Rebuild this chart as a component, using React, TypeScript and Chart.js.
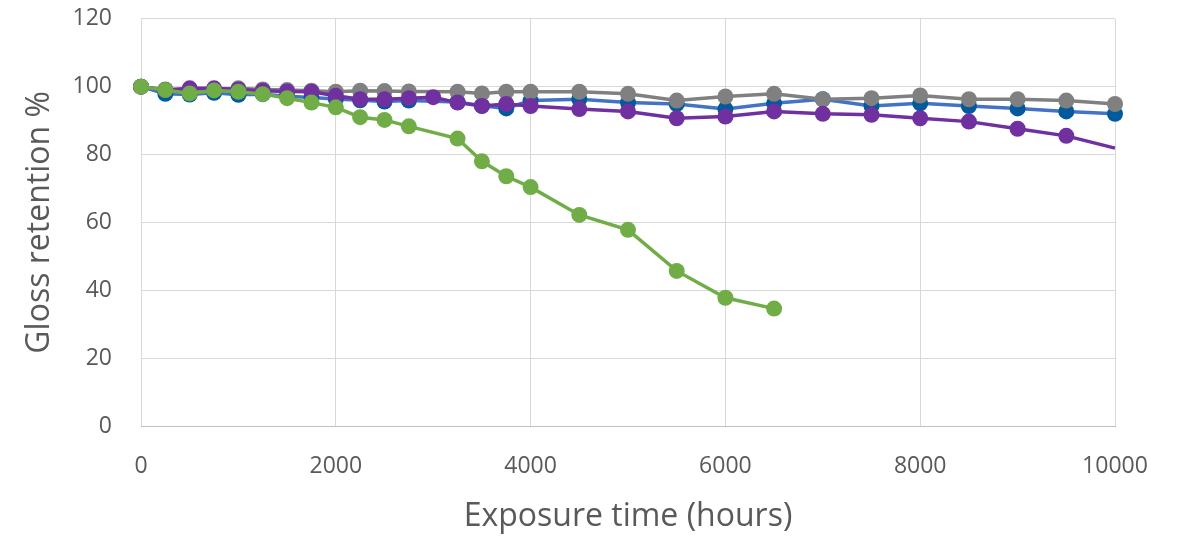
import React, { useEffect, useRef } from "react";
import { Chart, registerables } from "chart.js";

Chart.register(...registerables);

const xTicks = [0, 2000, 4000, 6000, 8000, 10000];
const yTicks = [0, 20, 40, 60, 80, 100, 120];

const blueHours = [0, 250, 500, 750, 1000, 1250, 1500, 1750, 2000, 2250, 2500, 2750, 3250, 3500, 3750, 4000, 4500, 5000, 5500, 6000, 6500, 7000, 7500, 8000, 8500, 9000, 9500, 10000];
const blueValues = [100, 97.9, 97.7, 98.2, 97.6, 97.8, 97.2, 96.8, 96.4, 96.0, 95.6, 95.9, 95.5, 94.4, 93.6, 95.9, 96.3, 95.3, 94.9, 93.4, 95.1, 96.3, 94.3, 95.1, 94.3, 93.6, 92.7, 92.0];

const grayHours = [0, 250, 500, 750, 1000, 1250, 1500, 1750, 2000, 2250, 2500, 2750, 3250, 3500, 3750, 4000, 4500, 5000, 5500, 6000, 6500, 7000, 7500, 8000, 8500, 9000, 9500, 10000];
const grayValues = [100, 99.2, 99.2, 99.2, 99.5, 99.2, 99.0, 98.8, 98.5, 98.8, 98.7, 98.6, 98.5, 98.0, 98.5, 98.5, 98.5, 97.9, 95.9, 97.1, 97.9, 96.3, 96.6, 97.4, 96.3, 96.3, 95.9, 94.9];

const purpleHours = [0, 250, 500, 750, 1000, 1250, 1500, 1750, 2000, 2250, 2500, 2750, 3000, 3250, 3500, 3750, 4000, 4500, 5000, 5500, 6000, 6500, 7000, 7500, 8000, 8500, 9000, 9500, 10000];
const purpleValues = [100, 99.0, 99.5, 99.5, 99.2, 98.8, 98.6, 98.5, 97.3, 96.3, 96.3, 96.6, 96.9, 95.3, 94.3, 94.9, 94.3, 93.4, 92.7, 90.7, 91.2, 92.7, 92.0, 91.7, 90.7, 89.7, 87.6, 85.5, 81.9];

const greenHours = [0, 250, 500, 750, 1000, 1250, 1500, 1750, 2000, 2250, 2500, 2750, 3250, 3500, 3750, 4000, 4500, 5000, 5500, 6000, 6500];
const greenValues = [100, 99.0, 98.0, 98.9, 98.5, 97.8, 96.6, 95.3, 93.9, 91.0, 90.2, 88.3, 84.7, 78.0, 73.6, 70.4, 62.2, 57.8, 45.7, 37.8, 34.6];

const toPoints = (hours: number[], values: number[]) =>
  hours.map((h, i) => ({ x: h, y: values[i] }));

export default function App() {
  const canvasRef = useRef<HTMLCanvasElement | null>(null);

  useEffect(() => {
    if (!canvasRef.current) return;
    const tickFont = { family: "'Open Sans'", size: 23 };
    const yTitleFont = { family: "'Open Sans'", size: 32 };
    const xTitleFont = { family: "'Open Sans'", size: 32 };
    const R = 8;
    const LW = 3.5;
    const purpleRadii = purpleHours.map((h, i) => (i === purpleHours.length - 1 ? 0 : R));
    const mk = (label: string, hours: number[], values: number[], line: string, marker: string, radius: any) => ({
      label,
      data: toPoints(hours, values),
      borderColor: line,
      backgroundColor: marker,
      pointBackgroundColor: marker,
      pointBorderColor: marker,
      borderWidth: LW,
      pointRadius: radius,
      pointBorderWidth: 0,
      clip: false,
    });
    const chart = new Chart(canvasRef.current, {
      type: "line",
      data: {
        datasets: [
          mk("Green", greenHours, greenValues, "#70AD47", "#70AD47", R),
          mk("Purple", purpleHours, purpleValues, "#7030A0", "#7030A0", purpleRadii),
          mk("Gray", grayHours, grayValues, "#808080", "#808080", R),
          mk("Blue", blueHours, blueValues, "#4472C4", "#005A9C", R),
        ],
      },
      options: {
        animation: false,
        responsive: true,
        maintainAspectRatio: false,
        layout: { padding: { left: 0, top: 0, right: 63, bottom: 0 } },
        plugins: {
          legend: { display: false },
          tooltip: { enabled: false },
        },
        scales: {
          x: {
            type: "linear",
            min: 0,
            max: 10000,
            afterBuildTicks: (scale: any) => {
              scale.ticks = xTicks.map((v) => ({ value: v }));
            },
            afterFit: (scale: any) => {
              scale.height = 112;
            },
            ticks: {
              color: "#595959",
              font: tickFont,
              padding: 27,
              maxRotation: 0,
              autoSkip: false,
              callback: (v: any) => String(v),
            },
            grid: { color: "#d9d9d9", lineWidth: 1, drawTicks: false },
            border: { color: "#bfbfbf", width: 1 },
            title: {
              display: true,
              text: "Exposure time (hours)",
              color: "#595959",
              font: xTitleFont,
              padding: { top: 0, bottom: 2 },
            },
          },
          y: {
            type: "linear",
            min: 0,
            max: 120,
            afterBuildTicks: (scale: any) => {
              scale.ticks = yTicks.map((v) => ({ value: v }));
            },
            afterFit: (scale: any) => {
              scale.width = 141;
            },
            ticks: {
              color: "#595959",
              font: tickFont,
              padding: 29,
              autoSkip: false,
              callback: (v: any) => String(v),
            },
            grid: { color: "#d9d9d9", lineWidth: 1, drawTicks: false },
            border: { display: false },
            title: {
              display: true,
              text: "Gloss retention %",
              color: "#595959",
              font: yTitleFont,
              padding: { top: 21, bottom: 0 },
            },
          },
        },
      },
    } as any);
    return () => chart.destroy();
  }, []);

  return (
    <div style={{ position: "fixed", left: 0, top: 0, width: 1178, height: 538, overflow: "hidden", background: "#fff" }}>
      <div style={{ position: "absolute", left: 0, top: -24, width: 1178, height: 562 }}>
        <canvas ref={canvasRef} />
      </div>
    </div>
  );
}
